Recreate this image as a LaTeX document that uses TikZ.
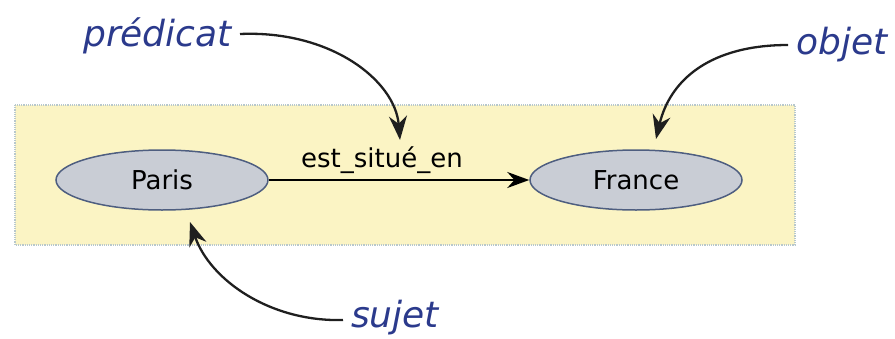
\documentclass[tikz,border=0pt]{standalone}
\usepackage{fontspec}
\setmainfont{DejaVu Sans}
\usetikzlibrary{arrows.meta,shapes.geometric}
\definecolor{panel}{HTML}{FBF4C4}
\definecolor{panelborder}{HTML}{B8C8CC}
\definecolor{ellfill}{HTML}{C9CDD5}
\definecolor{ellborder}{HTML}{4E5E80}
\definecolor{labblue}{HTML}{2B3A8C}
\tikzset{
  res/.style={ellipse, draw=ellborder, line width=1.5pt, fill=ellfill, minimum width=212pt, minimum height=60pt, inner sep=0pt, font=\fontsize{26}{30}\selectfont},
  role/.style={font=\fontsize{36}{40}\selectfont\itshape, text=labblue, inner sep=2pt},
  pointer/.style={-{Stealth[length=24pt,width=18pt]}, line width=2.3pt, black!88},
  rel/.style={-{Stealth[length=22pt,width=16pt]}, line width=2pt}
}
\begin{document}
\begin{tikzpicture}[x=1pt,y=-1pt]
\useasboundingbox (0,0) rectangle (895,338);
\draw[panelborder, fill=panel, densely dotted, line width=1.2pt] (15,105) rectangle (795,245);
\node[res] (paris) at (162,180) {Paris};
\node[res] (france) at (636,180) {France};
\draw[rel] (paris) -- (france);
\node[font=\fontsize{26}{30}\selectfont, inner sep=0pt] (lbl) at (382,160) {est\_situé\_en};
\node[role, anchor=east] (pred) at (234,36) {prédicat};
\node[role, anchor=west] (obj) at (794,45) {objet};
\node[role, anchor=west] (suj) at (349,318) {sujet};
\coordinate (predtip) at (400,140);
\coordinate (objtip) at (656,139);
\coordinate (sujtip) at (190,222);
\draw[pointer] (pred.east) ++(6,-2) .. controls (330,30) and (395,80) .. (predtip);
\draw[pointer] (obj.west) ++(-6,0) .. controls (710,45) and (670,80) .. (objtip);
\draw[pointer] (suj.west) ++(-6,2) .. controls (270,322) and (210,280) .. (sujtip);
\end{tikzpicture}
\end{document}
